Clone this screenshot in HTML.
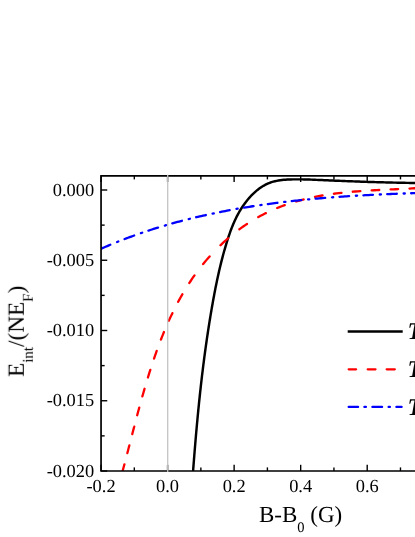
<!DOCTYPE html>
<html><head><meta charset="utf-8"><title>chart</title>
<style>
html,body{margin:0;padding:0;background:#fff;}
body{width:415px;height:537px;overflow:hidden;}
svg{display:block;font-family:"Liberation Serif",serif;}
text{text-rendering:geometricPrecision;}
.t{filter:grayscale(1);}
</style></head><body>
<svg width="415" height="537" viewBox="0 0 415 537">
<defs><clipPath id="plot"><rect x="101.05" y="175.8" width="315.95" height="295.2"/></clipPath></defs>
<rect width="415" height="537" fill="#fff"/>
<g fill="none" stroke-width="2.3" stroke-linejoin="round" clip-path="url(#plot)">
<path d="M193.00,472.10 L193.14,470.24 L193.28,468.39 L193.42,466.54 L193.57,464.70 L193.71,462.85 L193.86,461.01 L194.00,459.17 L194.15,457.33 L194.29,455.49 L194.44,453.65 L194.59,451.81 L194.74,449.98 L194.89,448.15 L195.04,446.32 L195.20,444.49 L195.35,442.66 L195.50,440.83 L195.66,439.01 L195.82,437.18 L195.97,435.36 L196.13,433.54 L196.29,431.72 L196.46,429.90 L196.62,428.08 L196.78,426.26 L196.95,424.44 L197.12,422.63 L197.29,420.81 L197.46,419.00 L197.63,417.19 L197.80,415.38 L197.97,413.57 L198.15,411.76 L198.33,409.95 L198.51,408.14 L198.69,406.33 L198.87,404.53 L199.05,402.72 L199.24,400.91 L199.43,399.11 L199.62,397.30 L199.81,395.50 L200.00,393.70 L200.20,391.89 L200.39,390.09 L200.59,388.29 L200.79,386.49 L200.99,384.69 L201.20,382.89 L201.40,381.09 L201.61,379.28 L201.82,377.48 L202.04,375.68 L202.25,373.88 L202.47,372.08 L202.69,370.28 L202.91,368.48 L203.13,366.69 L203.36,364.89 L203.59,363.09 L203.82,361.29 L204.05,359.49 L204.29,357.69 L204.52,355.88 L204.76,354.08 L205.01,352.28 L205.25,350.48 L205.50,348.68 L205.75,346.88 L206.00,345.08 L206.26,343.27 L206.52,341.47 L206.78,339.67 L207.04,337.86 L207.31,336.06 L207.58,334.25 L207.85,332.45 L208.12,330.64 L208.40,328.83 L208.68,327.03 L208.97,325.22 L209.25,323.41 L209.54,321.60 L209.83,319.79 L210.13,317.97 L210.43,316.16 L210.73,314.35 L211.03,312.53 L211.34,310.72 L211.65,308.90 L211.97,307.08 L212.29,305.26 L212.61,303.44 L212.93,301.62 L213.26,299.81 L213.59,297.99 L213.93,296.17 L214.27,294.35 L214.62,292.53 L214.97,290.71 L215.32,288.89 L215.68,287.08 L216.05,285.26 L216.42,283.45 L216.79,281.64 L217.17,279.83 L217.56,278.02 L217.95,276.22 L218.35,274.42 L218.75,272.62 L219.16,270.82 L219.58,269.03 L220.00,267.23 L220.43,265.45 L220.87,263.66 L221.31,261.88 L221.76,260.11 L222.22,258.34 L222.68,256.57 L223.16,254.80 L223.64,253.05 L224.12,251.29 L224.62,249.54 L225.12,247.80 L225.63,246.06 L226.15,244.33 L226.68,242.60 L227.22,240.88 L227.76,239.17 L228.32,237.46 L228.89,235.76 L229.46,234.06 L230.06,232.38 L230.66,230.70 L231.29,229.02 L231.93,227.36 L232.60,225.70 L233.28,224.05 L233.99,222.40 L234.72,220.77 L235.47,219.15 L236.26,217.53 L237.07,215.92 L237.92,214.32 L238.79,212.73 L239.70,211.15 L240.64,209.58 L241.62,208.02 L242.64,206.47 L243.69,204.93 L244.78,203.42 L245.90,201.92 L247.06,200.45 L248.25,199.00 L249.47,197.59 L250.73,196.21 L252.02,194.87 L253.35,193.56 L254.70,192.30 L256.08,191.09 L257.50,189.92 L258.95,188.81 L260.42,187.76 L261.93,186.76 L263.46,185.82 L265.02,184.95 L266.61,184.15 L268.22,183.42 L269.86,182.77 L271.53,182.18 L273.22,181.67 L274.93,181.23 L276.67,180.85 L278.42,180.52 L280.19,180.24 L281.97,180.02 L283.76,179.83 L285.57,179.68 L287.38,179.57 L289.20,179.49 L291.03,179.43 L292.86,179.39 L294.69,179.37 L296.53,179.35 L298.36,179.36 L300.20,179.37 L302.04,179.39 L303.87,179.42 L305.71,179.47 L307.55,179.51 L309.39,179.57 L311.23,179.63 L313.07,179.70 L314.91,179.77 L316.75,179.85 L318.60,179.93 L320.44,180.01 L322.28,180.09 L324.12,180.18 L325.97,180.26 L327.81,180.34 L329.65,180.42 L331.50,180.50 L333.34,180.58 L335.18,180.66 L337.03,180.74 L338.87,180.82 L340.71,180.89 L342.55,180.97 L344.39,181.04 L346.24,181.11 L348.08,181.18 L349.92,181.26 L351.76,181.33 L353.59,181.39 L355.43,181.46 L357.27,181.53 L359.11,181.59 L360.94,181.66 L362.78,181.72 L364.61,181.78 L366.44,181.85 L368.27,181.91 L370.10,181.96 L371.93,182.02 L373.76,182.08 L375.59,182.13 L377.41,182.19 L379.24,182.24 L381.06,182.29 L382.88,182.34 L384.70,182.39 L386.51,182.44 L388.33,182.48 L390.14,182.53 L391.95,182.57 L393.76,182.61 L395.57,182.65 L397.38,182.69 L399.18,182.73 L400.98,182.77 L402.78,182.80 L404.58,182.83 L406.37,182.87 L408.17,182.90 L409.96,182.92 L411.75,182.95 L413.53,182.98 L415.31,183.00 L416.80,183.02" stroke="#000" stroke-width="2.4499999999999997"/>
<path d="M122.36,471.95 L122.40,471.83 L123.01,469.55 L123.62,467.25 L124.24,464.95 L124.40,464.35 M127.36,453.05 L127.43,452.76 L128.04,450.42 L128.65,448.07 L129.26,445.72 L129.33,445.45 M132.25,434.15 L132.32,433.88 L132.93,431.50 L133.55,429.12 L134.18,426.73 L134.22,426.55 M137.20,415.25 L137.25,415.06 L137.89,412.66 L138.54,410.26 L139.19,407.86 L139.25,407.65 M142.38,396.35 L142.43,396.14 L143.12,393.74 L143.81,391.34 L144.50,388.93 L144.56,388.75 M147.93,377.45 L147.99,377.25 L148.73,374.85 L149.48,372.47 L150.24,370.08 L150.31,369.85 M154.04,358.55 L154.05,358.51 L154.87,356.14 L155.69,353.79 L156.52,351.43 L156.70,350.95 M160.92,339.65 L160.98,339.47 L161.89,337.16 L162.82,334.85 L163.75,332.55 L163.96,332.05 M168.83,320.75 L168.90,320.60 L169.93,318.35 L170.97,316.12 L172.03,313.89 L172.39,313.15 M178.15,301.85 L178.17,301.80 L179.35,299.64 L180.54,297.49 L181.75,295.35 L182.39,294.25 M189.33,282.95 L189.44,282.79 L190.80,280.74 L192.17,278.70 L193.57,276.68 L194.51,275.35 M203.10,264.05 L203.21,263.92 L204.79,262.01 L206.38,260.12 L208.00,258.25 L209.60,256.45 M220.47,245.22 L220.65,245.04 L222.46,243.34 L224.29,241.66 L226.13,240.00 L228.00,238.37 L228.07,238.31 M239.37,229.28 L239.61,229.10 L241.61,227.65 L243.62,226.23 L245.66,224.84 L246.97,223.96 M258.27,217.09 L258.47,216.98 L260.62,215.81 L262.78,214.67 L264.96,213.57 L265.87,213.12 M277.17,208.06 L277.18,208.05 L279.44,207.15 L281.72,206.28 L284.00,205.43 L284.77,205.15 M296.07,201.49 L296.19,201.45 L298.55,200.78 L300.91,200.13 L303.28,199.51 L303.67,199.42 M314.97,196.85 L314.97,196.85 L317.39,196.38 L319.82,195.93 L322.25,195.50 L322.57,195.44 M333.87,193.74 L333.89,193.74 L336.36,193.42 L338.83,193.12 L341.31,192.84 L341.47,192.82 M352.77,191.73 L352.81,191.72 L355.30,191.52 L357.80,191.32 L360.30,191.14 L360.37,191.14 M371.67,190.42 L371.87,190.41 L374.37,190.27 L376.87,190.14 L379.27,190.01 M390.57,189.47 L390.63,189.47 L393.12,189.35 L395.62,189.24 L398.11,189.12 L398.17,189.12 M409.47,188.55 L409.58,188.55 L412.05,188.41 L414.51,188.27 L416.97,188.12 L417.07,188.11" stroke="#ff0000" stroke-linecap="round"/>
<path d="M100.67,248.90 L100.75,248.87 L102.36,248.16 L103.98,247.46 L105.59,246.76 L107.21,246.07 L108.83,245.39 L110.27,244.78 M117.07,242.01 L117.16,241.97 L118.27,241.53 M124.55,239.09 L124.72,239.02 L126.36,238.40 L128.00,237.79 L129.64,237.18 L131.28,236.57 L132.93,235.98 L134.15,235.54 M140.95,233.15 L140.97,233.14 L142.15,232.74 M148.43,230.64 L148.63,230.57 L150.29,230.03 L151.95,229.50 L153.61,228.97 L155.28,228.44 L156.95,227.92 L158.03,227.59 M164.83,225.54 L164.88,225.53 L166.03,225.19 M172.31,223.40 L172.42,223.36 L174.10,222.90 L175.78,222.43 L177.47,221.98 L179.15,221.52 L180.83,221.08 L181.91,220.79 M188.71,219.05 L188.85,219.02 L189.91,218.75 M196.19,217.23 L196.26,217.21 L197.96,216.81 L199.66,216.42 L201.36,216.03 L203.06,215.64 L204.76,215.26 L205.79,215.03 M212.59,213.56 L212.64,213.55 L213.79,213.30 M220.07,212.02 L220.11,212.01 L221.82,211.67 L223.53,211.34 L225.25,211.01 L226.96,210.68 L228.67,210.36 L229.67,210.17 M236.47,208.94 L236.61,208.92 L237.67,208.73 M243.95,207.66 L244.14,207.63 L245.86,207.34 L247.58,207.06 L249.31,206.79 L251.03,206.51 L252.76,206.24 L253.55,206.12 M260.35,205.10 L260.53,205.08 L261.55,204.93 M267.83,204.05 L267.88,204.04 L269.61,203.80 L271.34,203.57 L273.08,203.34 L274.81,203.12 L276.54,202.89 L277.43,202.78 M284.23,201.95 L284.35,201.93 L285.43,201.81 M291.71,201.09 L291.73,201.08 L293.47,200.89 L295.21,200.70 L296.95,200.52 L298.69,200.33 L300.43,200.15 L301.31,200.06 M308.11,199.39 L308.26,199.38 L309.31,199.28 M315.59,198.70 L315.66,198.69 L317.40,198.54 L319.14,198.39 L320.89,198.24 L322.63,198.09 L324.37,197.95 L325.19,197.88 M331.99,197.35 L332.00,197.35 L333.19,197.26 M339.47,196.80 L339.63,196.79 L341.38,196.67 L343.12,196.55 L344.87,196.43 L346.61,196.31 L348.36,196.20 L349.07,196.16 M355.87,195.74 L355.99,195.73 L357.07,195.67 M363.35,195.31 L363.40,195.31 L365.15,195.21 L366.89,195.12 L368.63,195.03 L370.38,194.94 L372.12,194.85 L372.95,194.81 M379.75,194.49 L379.96,194.48 L380.95,194.43 M387.23,194.16 L387.37,194.15 L389.11,194.08 L390.85,194.01 L392.59,193.94 L394.33,193.87 L396.07,193.80 L396.83,193.77 M403.63,193.52 L403.68,193.52 L404.83,193.48 M411.11,193.27 L411.28,193.26 L413.02,193.21 L414.76,193.15 L416.49,193.10 L416.93,193.08" stroke="#0000ff" stroke-linecap="round"/>
</g>
<g stroke="#000" stroke-width="1.7" fill="none">
<path d="M417,175.8 L101.05,175.8 L101.05,471.0 L417,471.0" stroke-linejoin="miter"/>
</g>
<g stroke="#000" stroke-width="1.4" fill="none">
<line x1="101.05" y1="471.0" x2="101.05" y2="464.8"/>
<line x1="101.05" y1="175.8" x2="101.05" y2="182.0"/>
<line x1="167.59" y1="471.0" x2="167.59" y2="464.8"/>
<line x1="167.59" y1="175.8" x2="167.59" y2="182.0"/>
<line x1="234.13" y1="471.0" x2="234.13" y2="464.8"/>
<line x1="234.13" y1="175.8" x2="234.13" y2="182.0"/>
<line x1="300.67" y1="471.0" x2="300.67" y2="464.8"/>
<line x1="300.67" y1="175.8" x2="300.67" y2="182.0"/>
<line x1="367.21" y1="471.0" x2="367.21" y2="464.8"/>
<line x1="367.21" y1="175.8" x2="367.21" y2="182.0"/>
<line x1="134.32" y1="471.0" x2="134.32" y2="467.4"/>
<line x1="134.32" y1="175.8" x2="134.32" y2="179.4"/>
<line x1="200.86" y1="471.0" x2="200.86" y2="467.4"/>
<line x1="200.86" y1="175.8" x2="200.86" y2="179.4"/>
<line x1="267.40" y1="471.0" x2="267.40" y2="467.4"/>
<line x1="267.40" y1="175.8" x2="267.40" y2="179.4"/>
<line x1="333.94" y1="471.0" x2="333.94" y2="467.4"/>
<line x1="333.94" y1="175.8" x2="333.94" y2="179.4"/>
<line x1="400.48" y1="471.0" x2="400.48" y2="467.4"/>
<line x1="400.48" y1="175.8" x2="400.48" y2="179.4"/>
<line x1="101.05" y1="190.00" x2="107.25" y2="190.00"/>
<line x1="101.05" y1="260.25" x2="107.25" y2="260.25"/>
<line x1="101.05" y1="330.50" x2="107.25" y2="330.50"/>
<line x1="101.05" y1="400.75" x2="107.25" y2="400.75"/>
<line x1="101.05" y1="471.00" x2="107.25" y2="471.00"/>
<line x1="101.05" y1="225.12" x2="104.64999999999999" y2="225.12"/>
<line x1="101.05" y1="295.38" x2="104.64999999999999" y2="295.38"/>
<line x1="101.05" y1="365.62" x2="104.64999999999999" y2="365.62"/>
<line x1="101.05" y1="435.88" x2="104.64999999999999" y2="435.88"/>
</g>
<line x1="167.7" y1="174.8" x2="167.7" y2="472.0" stroke="#c4c4c4" stroke-width="1.3"/>
<g class="t" font-size="18.4px" fill="#000">
<text x="101.05" y="491.6" text-anchor="middle">-0.2</text>
<text x="167.59" y="491.6" text-anchor="middle">0.0</text>
<text x="234.13" y="491.6" text-anchor="middle">0.2</text>
<text x="300.67" y="491.6" text-anchor="middle">0.4</text>
<text x="367.21" y="491.6" text-anchor="middle">0.6</text>
<text x="94.2" y="195.50" text-anchor="end">0.000</text>
<text x="94.2" y="265.75" text-anchor="end">-0.005</text>
<text x="94.2" y="336.00" text-anchor="end">-0.010</text>
<text x="94.2" y="406.25" text-anchor="end">-0.015</text>
<text x="94.2" y="476.50" text-anchor="end">-0.020</text>
</g>
<g stroke-width="2.3" fill="none" stroke-linecap="round">
<line x1="347.7" y1="331.5" x2="402.7" y2="331.5" stroke="#000" stroke-width="2.4499999999999997" stroke-linecap="butt"/>
<path d="M348.7,369.3 H356.1 M367.7,369.3 H375.5 M386.7,369.3 H394.8" stroke="#ff0000"/>
<path d="M348.7,406.9 H358.1 M364.4,406.9 H365.9 M372.4,406.9 H382.1 M388.6,406.9 H389.9 M396.4,406.9 H401.6" stroke="#0000ff"/>
</g>
<g class="t" font-size="24px" font-weight="bold" font-style="italic" fill="#000">
<text x="407.6" y="338.7">T</text>
<text x="407.6" y="377.0">T</text>
<text x="407.6" y="414.7">T</text>
</g>
<g class="t" fill="#000">
<text x="258.9" y="522.3" font-size="23px">B-B<tspan font-size="14.5px" dy="10">0</tspan><tspan dy="-10"> (G)</tspan></text>
<text transform="translate(23.8,376.9) rotate(-90)" font-size="23.2px">E<tspan font-size="15px" dy="8.7">int</tspan><tspan dy="-8.7">/(NE</tspan><tspan font-size="15px" dy="8.7">F</tspan><tspan dy="-8.7">)</tspan></text>
</g>
</svg>
</body></html>
